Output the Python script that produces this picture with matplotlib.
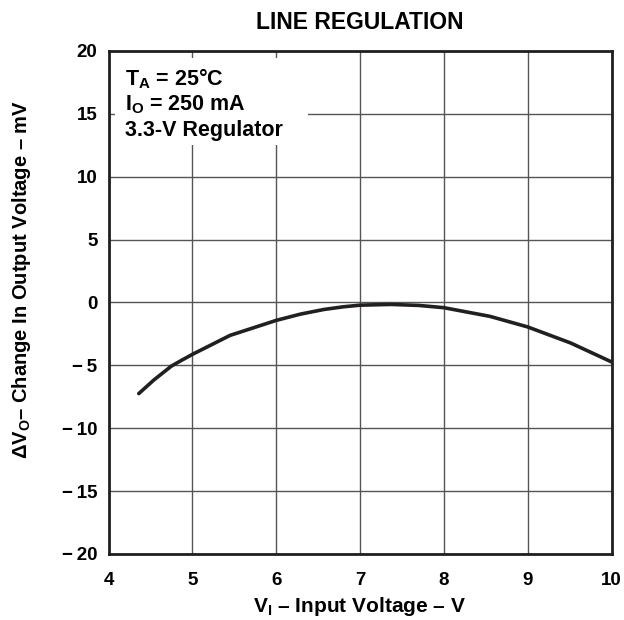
import matplotlib.pyplot as plt
from matplotlib.patches import Rectangle

plt.rcParams['font.family'] = ['Liberation Sans', 'DejaVu Sans']
plt.rcParams['font.weight'] = 'bold'
plt.rcParams['mathtext.fontset'] = 'custom'
plt.rcParams['mathtext.rm'] = 'Liberation Sans:bold'
plt.rcParams['mathtext.it'] = 'Liberation Sans:bold'
plt.rcParams['mathtext.bf'] = 'Liberation Sans:bold'
plt.rcParams['mathtext.sf'] = 'Liberation Sans:bold'
plt.rcParams['mathtext.default'] = 'rm'

# curve
v_in = [4.36, 4.54, 4.75, 4.88, 5.0, 5.45, 6.0, 6.29, 6.57, 6.8, 7.0, 7.37, 7.7, 8.0, 8.55, 9.0, 9.51, 10.0]
delta_vo = [-7.25, -6.17, -5.06, -4.57, -4.13, -2.62, -1.43, -0.93, -0.56, -0.35, -0.22, -0.16, -0.24,
            -0.42, -1.11, -1.95, -3.22, -4.73]

x_ticks = [4, 5, 6, 7, 8, 9, 10]
y_ticks = [-20, -15, -10, -5, 0, 5, 10, 15, 20]
y_labels = ['\u2212\u200920', '\u2212\u200915', '\u2212\u200910', '\u2212\u20095', '0', '5', '10', '15', '20']

fig = plt.figure(figsize=(6.24, 6.20), dpi=100)
ax = fig.add_axes([0.174, 0.1065, 0.806, 0.8115])

ax.plot(v_in, delta_vo, color='#231f20', linewidth=2.6, solid_capstyle='round',
        solid_joinstyle='round', zorder=3)

ax.set_xlim(4, 10)
ax.set_ylim(-20, 20)
ax.set_xticks(x_ticks)
ax.set_yticks(y_ticks)
ax.set_yticklabels(y_labels)
ax.tick_params(length=0, labelsize=13.5)
ax.tick_params(axis='x', pad=13)
ax.tick_params(axis='y', pad=8)
ax.grid(True, color='#555555', linewidth=1.0)
for s in ax.spines.values():
    s.set_linewidth(2.0)
    s.set_color('#231f20')

# white box behind the conditions text
ax.add_patch(Rectangle((4.08, 12.55), 2.3, 6.9, facecolor='white', edgecolor='none', zorder=2))
ax.text(4.2, 17.8, r'T$_{A}$ = 25°C', fontsize=15.5, fontweight='bold', va='center', zorder=4)
ax.text(4.2, 15.75, r'I$_{O}$ = 250 mA', fontsize=15.5, fontweight='bold', va='center', zorder=4)
ax.text(4.2, 13.7, '3.3-V Regulator', fontsize=15.5, fontweight='bold', va='center', zorder=4)

ax.set_title('LINE REGULATION', fontsize=16.5, fontweight='bold', pad=16)
ax.set_xlabel('V$_{I}$ \u2013 Input Voltage \u2013 V', fontsize=15, fontweight='bold', labelpad=4)
ax.set_ylabel('\u0394V$_{O}$\u2013 Change In Output Voltage \u2013 mV', fontsize=14.5,
              fontweight='bold')
ax.yaxis.set_label_coords(-0.15, 0.545)

fig.savefig('out.png', dpi=100)
